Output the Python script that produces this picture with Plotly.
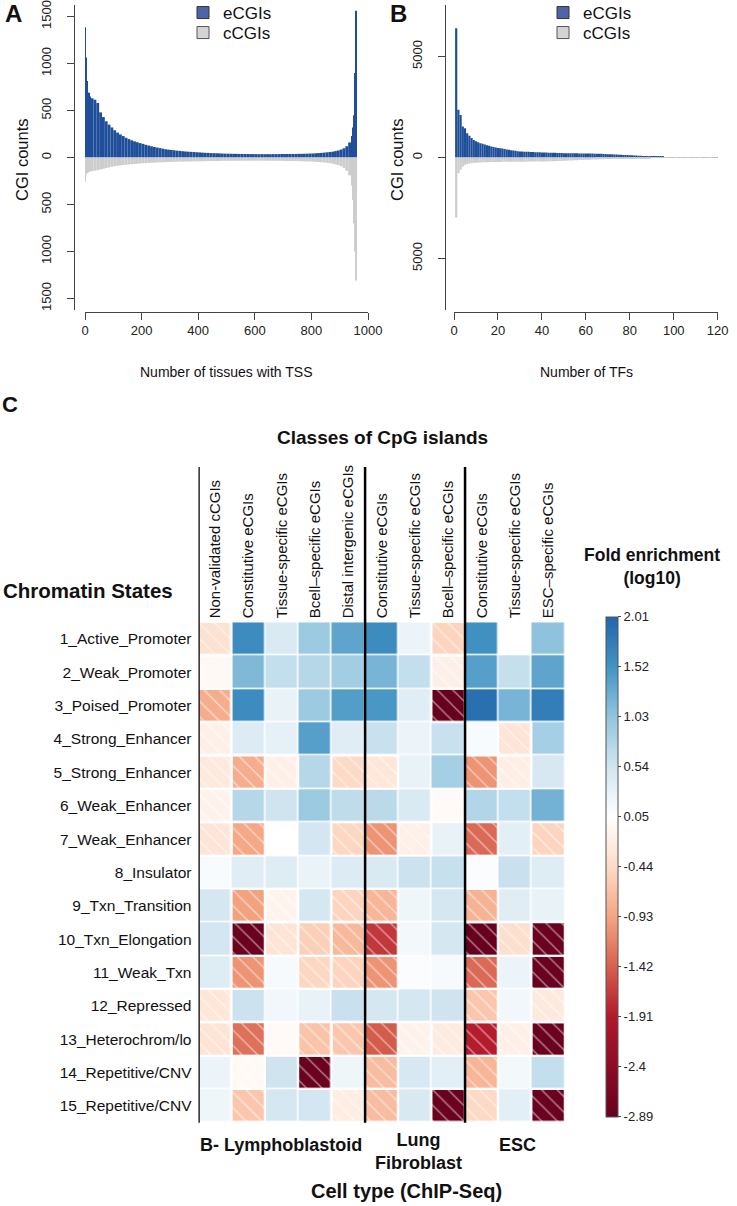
import numpy as np
import plotly.graph_objects as go

W, H = 737, 1206
FONT = "Liberation Sans, Arial, Helvetica, sans-serif"


def fx(p):
    return p / W


def fy(p):
    return 1 - p / H


# ---------------- Panel A data: CGI counts vs number of tissues with TSS ----------------
tissue_edges = [0, 3, 6, 9, 12, 16] + list(range(20, 941, 10)) + [944, 948, 952, 956, 960]
ecgi_tissues = (
    [1386, 1064, 814, 690, 690, 650]
    + [630, 615, 580, 480, 430, 385, 350, 320, 290, 265]
    + [245, 228, 210, 196, 183, 172, 162, 153, 145, 135]
    + [127, 119, 112, 106, 100, 94, 88, 84, 80, 77]
    + [73, 70, 67, 64, 62, 60, 58, 56, 54, 52]
    + [50, 49, 47, 46, 45, 44, 42, 41, 41, 40]
    + [39, 39, 38, 38, 37, 37, 36, 36, 36, 35]
    + [36, 35, 36, 35, 36, 36, 36, 37, 37, 37]
    + [38, 38, 38, 39, 39, 40, 41, 42, 43, 45]
    + [47, 49, 52, 55, 58, 62, 68, 75, 85, 98]
    + [120, 160]
    + [230, 320, 450, 900, 1560]
)
ccgi_tissues = (
    [257, 180, 165, 160, 150, 148]
    + [145, 140, 135, 128, 120, 112, 105, 98, 92, 88]
    + [84, 80, 77, 74, 71, 68, 66, 64, 62, 60]
    + [58, 56, 55, 53, 52, 50, 49, 48, 47, 46]
    + [45, 44, 44, 43, 42, 42, 41, 40, 40, 39]
    + [39, 38, 38, 37, 37, 37, 36, 36, 36, 35]
    + [35, 35, 35, 35, 34, 34, 34, 34, 34, 34]
    + [34, 34, 35, 35, 35, 35, 36, 36, 36, 37]
    + [37, 38, 38, 39, 40, 41, 42, 43, 44, 46]
    + [48, 50, 53, 56, 60, 65, 72, 80, 92, 110]
    + [140, 190]
    + [300, 450, 700, 1000, 1309]
)
assert len(ecgi_tissues) == len(tissue_edges) - 1 == len(ccgi_tissues)

# ---------------- Panel B data: CGI counts vs number of TFs ----------------
tf_counts = list(range(1, 121))
ecgi_tfs = (
    [6400, 2360, 2110, 1535, 1450, 1200, 1080, 960, 870, 800]
    + [750, 710, 676, 640, 610, 580, 550, 520, 495, 470]
    + [455, 440, 425, 400, 380, 365, 350, 330, 315, 300]
    + [295, 290, 285, 280, 275, 270, 265, 260, 255, 250]
    + [246, 243, 240, 237, 234, 231, 228, 224, 220, 216]
    + [213, 211, 210, 208, 206, 205, 204, 202, 200, 198]
    + [196, 194, 192, 190, 187, 184, 180, 176, 171, 166]
    + [160, 155, 150, 145, 140, 134, 128, 123, 118, 113]
    + [108, 102, 96, 90, 84, 78, 72, 65, 58, 50]
    + [45, 40, 36, 32, 28, 25, 22, 19, 17, 15]
    + [13, 11, 10, 9, 8, 7, 6, 5, 4, 4]
    + [3, 3, 2, 2, 2, 2, 1, 1, 1, 1]
)
ccgi_tfs = (
    [2970, 775, 610, 445, 363, 320, 295, 280, 265, 255]
    + [248, 242, 238, 234, 230, 228, 226, 224, 222, 220]
    + [218, 216, 215, 214, 213, 212, 211, 210, 209, 208]
    + [207, 206, 205, 204, 203, 202, 201, 200, 198, 196]
    + [194, 192, 190, 187, 184, 180, 176, 172, 168, 163]
    + [158, 153, 148, 143, 138, 133, 128, 123, 119, 115]
    + [111, 107, 103, 99, 95, 91, 87, 83, 79, 75]
    + [71, 68, 65, 62, 59, 56, 53, 50, 48, 46]
    + [43, 41, 39, 36, 34, 32, 30, 28, 26, 24]
    + [22, 20, 18, 16, 15, 14, 13, 12, 11, 10]
    + [9, 8, 7, 6, 6, 5, 5, 4, 4, 3]
    + [3, 3, 2, 2, 2, 1, 1, 1, 1, 1]
)
assert len(ecgi_tfs) == len(tf_counts) == len(ccgi_tfs)

# ---------------- Panel C data: fold enrichment (log10) ----------------
chromatin_states = [
    "1_Active_Promoter", "2_Weak_Promoter", "3_Poised_Promoter", "4_Strong_Enhancer",
    "5_Strong_Enhancer", "6_Weak_Enhancer", "7_Weak_Enhancer", "8_Insulator",
    "9_Txn_Transition", "10_Txn_Elongation", "11_Weak_Txn", "12_Repressed",
    "13_Heterochrom/lo", "14_Repetitive/CNV", "15_Repetitive/CNV",
]
cgi_classes = [
    "Non-validated cCGIs", "Constitutive eCGIs", "Tissue-specific eCGIs",
    "Bcell\u2013specific eCGIs", "Distal intergenic eCGIs",
    "Constitutive eCGIs", "Tissue-specific eCGIs", "Bcell\u2013specific eCGIs",
    "Constitutive eCGIs", "Tissue-specific eCGIs", "ESC\u2013specific eCGIs",
]
cell_types = ["B- Lymphoblastoid", "Lung<br>Fibroblast", "ESC"]
cell_type_sizes = [5, 3, 3]

# columns: Non-validated, Constitutive, Tissue-specific, Bcell-specific, Distal intergenic
fold_b_lympho = [
    [-0.35, 1.60, 0.45, 0.95, 1.35],
    [-0.05, 1.15, 0.65, 0.75, 0.90],
    [-0.85, 1.60, 0.30, 0.95, 1.42],
    [-0.15, 0.42, 0.32, 1.40, 0.38],
    [-0.25, -0.85, -0.15, 0.75, -0.45],
    [-0.12, 0.75, 0.55, 0.95, 0.68],
    [-0.30, -0.90, 0.05, 0.52, -0.48],
    [0.12, 0.38, 0.40, 0.28, 0.42],
    [0.50, -0.95, -0.10, 0.50, -0.50],
    [0.52, -2.85, -0.32, -0.55, -0.75],
    [0.40, -1.05, 0.15, -0.48, -0.50],
    [-0.28, 0.58, 0.20, 0.30, 0.60],
    [-0.32, -1.30, -0.02, -0.65, -0.62],
    [0.25, -0.03, 0.55, -2.85, 0.22],
    [0.22, -0.62, 0.50, 0.52, -0.20],
]
# columns: Constitutive, Tissue-specific, Bcell-specific
fold_lung = [
    [1.60, 0.25, -0.50],
    [1.20, 0.65, -0.15],
    [1.48, 0.38, -2.89],
    [0.60, 0.25, 0.60],
    [-0.28, 0.30, 0.88],
    [0.72, 0.45, -0.02],
    [-1.05, -0.15, 0.30],
    [0.45, 0.58, 0.62],
    [-0.78, 0.22, 0.50],
    [-1.70, 0.18, 0.50],
    [-1.05, 0.10, 0.15],
    [0.50, 0.50, 0.55],
    [-1.45, -0.12, -0.22],
    [-0.72, 0.48, 0.35],
    [-0.72, 0.46, -2.85],
]
# columns: Constitutive, Tissue-specific, ESC-specific
fold_esc = [
    [1.55, 0.05, 1.05],
    [1.40, 0.63, 1.35],
    [1.90, 1.20, 1.75],
    [0.12, -0.30, 0.88],
    [-1.05, -0.18, 0.48],
    [0.78, 0.65, 1.22],
    [-1.35, 0.35, -0.50],
    [0.10, 0.60, 0.40],
    [-0.80, 0.38, 0.30],
    [-2.89, -0.38, -2.85],
    [-1.35, 0.25, -2.85],
    [-0.62, 0.20, -0.25],
    [-1.88, -0.15, -2.85],
    [-0.78, 0.18, 0.65],
    [-0.45, 0.36, -2.85],
]
cbar_ticks = [2.01, 1.52, 1.03, 0.54, 0.05, -0.44, -0.93, -1.42, -1.91, -2.4, -2.89]

# ---------------- build figure ----------------
fig = go.Figure()

ECGI_BAR = "#1f4f9a"
CCGI_BAR = "#cdcdcd"

edges = np.array(tissue_edges, dtype=float)
centers = (edges[:-1] + edges[1:]) / 2
widths = np.diff(edges)

fig.add_trace(go.Bar(x=centers, y=ecgi_tissues, width=widths, marker=dict(color=ECGI_BAR, line_width=0),
                     xaxis="x", yaxis="y", showlegend=False, name="eCGIs"))
fig.add_trace(go.Bar(x=centers, y=-np.array(ccgi_tissues), width=widths,
                     marker=dict(color=CCGI_BAR, line_width=0),
                     xaxis="x", yaxis="y", showlegend=False, name="cCGIs"))

fig.add_trace(go.Bar(x=tf_counts, y=ecgi_tfs, width=1.0, marker=dict(color=ECGI_BAR, line_width=0),
                     xaxis="x2", yaxis="y2", showlegend=False, name="eCGIs"))
fig.add_trace(go.Bar(x=tf_counts, y=-np.array(ccgi_tfs), width=1.0, marker=dict(color=CCGI_BAR, line_width=0),
                     xaxis="x2", yaxis="y2", showlegend=False, name="cCGIs"))

# legend entries (one legend per entry so that each can be placed precisely)
legend_items = [
    ("legend", "x", "y", "eCGIs", "#4e64a6", "#333333"),
    ("legend2", "x", "y", "cCGIs", "#d4d4d4", "#555555"),
    ("legend3", "x2", "y2", "eCGIs", "#4e64a6", "#333333"),
    ("legend4", "x2", "y2", "cCGIs", "#d4d4d4", "#555555"),
]
for leg, xa, ya, nm, col, lc in legend_items:
    fig.add_trace(go.Scatter(x=[None], y=[None], mode="markers", name=nm, legend=leg,
                             xaxis=xa, yaxis=ya,
                             marker=dict(symbol="square", size=12, color=col,
                                         line=dict(color=lc, width=1))))

# heatmap
z = np.hstack([np.array(fold_b_lympho), np.array(fold_lung), np.array(fold_esc)])
nrow, ncol = z.shape
zmin, zmax = -2.89, 2.01
colorscale = [
    [0.0, "#67001f"], [0.1, "#8e0b25"], [0.2, "#b2182b"], [0.3, "#d6604d"],
    [0.4, "#f4a582"], [0.5, "#fddbc7"], [0.6, "#ffffff"], [0.7, "#d1e5f0"],
    [0.8, "#92c5de"], [0.9, "#4393c3"], [1.0, "#2166ac"],
]
fig.add_trace(go.Heatmap(
    z=z, x=list(range(ncol)), y=list(range(nrow)), zmin=zmin, zmax=zmax,
    colorscale=colorscale, xgap=1.5, ygap=1.5, xaxis="x3", yaxis="y3",
    customdata=np.array([[chromatin_states[r]] * ncol for r in range(nrow)]),
    hovertemplate="%{customdata}<br>%{z}<extra></extra>",
    colorbar=dict(
        x=fx(606), xanchor="left", y=fy(866.7), yanchor="middle",
        thickness=12, thicknessmode="pixels", len=500, lenmode="pixels",
        xpad=0, ypad=0, outlinewidth=1, outlinecolor="#555555",
        tickvals=cbar_ticks, ticktext=[("%g" % t) for t in cbar_ticks],
        ticks="outside", ticklen=3, tickcolor="#444444",
        tickfont=dict(size=13, color="#222222", family=FONT),
    ),
))

# hatching on negative cells
neg_r, neg_c = np.where(z < 0)
fig.add_trace(go.Bar(
    x=neg_c, y=np.ones(len(neg_r)), base=neg_r - 0.5, width=1.0,
    xaxis="x3", yaxis="y3", showlegend=False, hoverinfo="skip",
    marker=dict(color="rgba(0,0,0,0)", line=dict(color="white", width=1.5),
                pattern=dict(shape="\\", fgcolor="white", bgcolor="rgba(0,0,0,0)",
                             fillmode="overlay", size=11, solidity=0.13)),
))

# group separator lines
bounds = np.concatenate([[0], np.cumsum(cell_type_sizes)])[:-1] - 0.5
shapes = []
for b in bounds:
    shapes.append(dict(type="line", xref="x3", yref="paper", x0=b, x1=b,
                       y0=fy(1122.7), y1=fy(467), line=dict(color="black", width=2.5)))

axis_common = dict(showgrid=False, zeroline=False, ticks="outside", ticklen=7, tickcolor="#444444",
                   showline=True, linecolor="#444444", linewidth=1,
                   tickfont=dict(size=13, color="#222222", family=FONT))

a_ticks = [-1500, -1000, -500, 0, 500, 1000, 1500]
b_ticks = [-5000, 0, 5000]

leg_common = dict(xanchor="left", yanchor="middle", bgcolor="rgba(0,0,0,0)", borderwidth=0,
                  font=dict(size=17, color="#111111", family=FONT))

fig.update_layout(
    width=W, height=H, margin=dict(l=0, r=0, t=0, b=0, autoexpand=False),
    paper_bgcolor="white", plot_bgcolor="white", barmode="overlay",
    font=dict(family=FONT, color="#111111"),
    xaxis=dict(domain=[fx(85), fx(368)], range=[0, 1000], anchor="free", position=fy(311.7),
               tickvals=[0, 200, 400, 600, 800, 1000], **axis_common),
    yaxis=dict(domain=[fy(310), fy(5)], range=[-1622, 1622], anchor="free", position=fx(74),
               tickvals=a_ticks, ticktext=[str(abs(t)) for t in a_ticks], tickangle=-90,
               ticklabelstandoff=11, **axis_common),
    xaxis2=dict(domain=[fx(454), fx(717.7)], range=[0, 120], anchor="free", position=fy(311.7),
                tickvals=[0, 20, 40, 60, 80, 100, 120], **axis_common),
    yaxis2=dict(domain=[fy(310), fy(5)], range=[-7550, 7550], anchor="free", position=fx(445),
                tickvals=b_ticks, ticktext=[str(abs(t)) for t in b_ticks], tickangle=-90,
                ticklabelstandoff=11, **axis_common),
    xaxis3=dict(domain=[fx(198.5), fx(565)], range=[-0.5, ncol - 0.5], anchor="y3", side="top",
                tickvals=list(range(ncol)), ticktext=cgi_classes, tickangle=-90,
                showgrid=False, zeroline=False, showline=False, ticks="",
                tickfont=dict(size=15, color="#111111", family=FONT), ticklabelstandoff=3),
    yaxis3=dict(domain=[fy(1122.7), fy(622.3)], range=[nrow - 0.5, -0.5], anchor="x3",
                tickvals=list(range(nrow)), ticktext=chromatin_states,
                showgrid=False, zeroline=False, showline=False, ticks="",
                tickfont=dict(size=15.5, color="#111111", family=FONT), ticklabelstandoff=6),
    legend=dict(x=fx(183), y=fy(13), **leg_common),
    legend2=dict(x=fx(183), y=fy(33), **leg_common),
    legend3=dict(x=fx(543), y=fy(13), **leg_common),
    legend4=dict(x=fx(543), y=fy(33), **leg_common),
    shapes=shapes,
)

annots = [
    dict(text="<b>A</b>", x=13, y=14, size=24),
    dict(text="<b>B</b>", x=398, y=14, size=24),
    dict(text="<b>C</b>", x=10, y=404, size=22),
    dict(text="CGI counts", x=22, y=160, size=16.5, angle=-90),
    dict(text="CGI counts", x=397, y=160, size=16.5, angle=-90),
    dict(text="Number of tissues with TSS", x=226, y=372, size=14),
    dict(text="Number of TFs", x=586, y=372, size=14),
    dict(text="<b>Classes of CpG islands</b>", x=382, y=437, size=19),
    dict(text="<b>Chromatin States</b>", x=88, y=590, size=20.5),
    dict(text="<b>Fold enrichment</b><br><b>(log10)</b>", x=652, y=566, size=17.5),
    dict(text="<b>B- Lymphoblastoid</b>", x=281, y=1145, size=18),
    dict(text="<b>Lung<br>Fibroblast</b>", x=418, y=1151, size=18),
    dict(text="<b>ESC</b>", x=517, y=1145, size=18),
    dict(text="<b>Cell type (ChIP-Seq)</b>", x=406, y=1191, size=20),
]
for a in annots:
    fig.add_annotation(text=a["text"], x=fx(a["x"]), y=fy(a["y"]), xref="paper", yref="paper",
                       xanchor="center", yanchor="middle", showarrow=False,
                       textangle=a.get("angle", 0),
                       font=dict(size=a["size"], color="#111111", family=FONT))

# remove the browser's default 8px page margin so the figure sits at the window origin
fig.write_html("out.html", config={"displayModeBar": False},
               post_script="document.body.style.margin='0px';")
